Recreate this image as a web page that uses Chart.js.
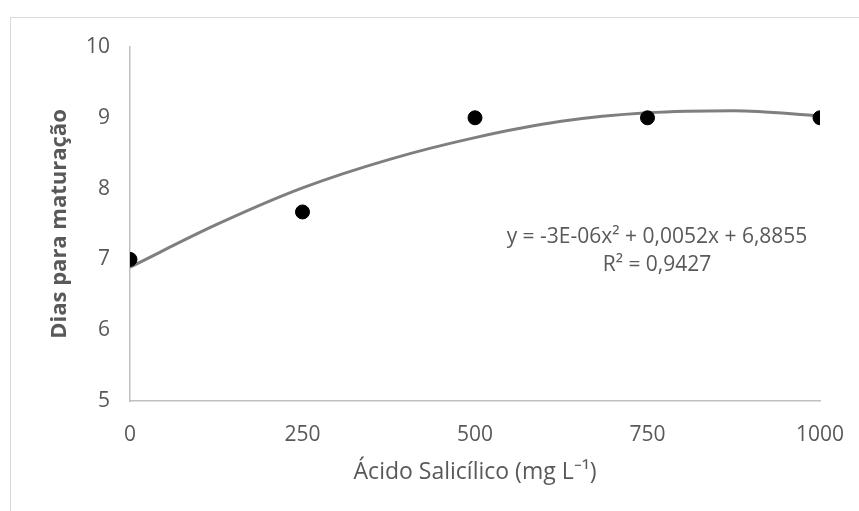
<!DOCTYPE html>
<html>
<head>
<meta charset="utf-8">
<script src="https://cdn.jsdelivr.net/npm/chart.js@4"></script>
<style>
  html, body { margin: 0; padding: 0; background: #fff; }
  #wrap { width: 859px; height: 511px; }
</style>
</head>
<body>
<div id="wrap"><canvas id="chart"></canvas></div>
<script>
// observed points
const doses = [0, 250, 500, 750, 1000];
const dias = [7, 7.67, 9, 9, 9];

// trend line
const trendX = [0, 125, 250, 375, 500, 625, 750, 875, 1000];
const trendY = [6.89, 7.49, 8.01, 8.41, 8.72, 8.95, 9.07, 9.1, 9.03];

const xTicks = [0, 250, 500, 750, 1000];
const yTicks = [5, 6, 7, 8, 9, 10];

const eqLines = ['y = -3E-06x² + 0,0052x + 6,8855', 'R² = 0,9427'];

const grey = '#595959';
const fontFam = '"Open Sans", sans-serif';

const frame = {
    id: 'frame',
    beforeDraw(chart) {
        const ctx = chart.ctx;
        ctx.save();
        ctx.fillStyle = '#fff';
        ctx.fillRect(0, 0, chart.width, chart.height);
        ctx.strokeStyle = '#d9d9d9';
        ctx.lineWidth = 1;
        ctx.strokeRect(10.5, 17.5, 1000, 1000);
        ctx.restore();
    },
    afterDraw(chart) {
        const ctx = chart.ctx;
        ctx.save();
        ctx.fillStyle = grey;
        ctx.font = '21px ' + fontFam;
        ctx.textAlign = 'center';
        ctx.textBaseline = 'middle';
        ctx.fillText(eqLines[0], 657, 237);
        ctx.fillText(eqLines[1], 657, 265);
        ctx.restore();
    }
};

new Chart(document.getElementById('chart'), {
    type: 'scatter',
    data: {
        datasets: [
            {
                label: 'trend',
                data: trendX.map((x, i) => ({ x: x, y: trendY[i] })),
                showLine: true,
                borderColor: '#7f7f7f',
                borderWidth: 3,
                pointRadius: 0,
                cubicInterpolationMode: 'monotone',
                order: 2
            },
            {
                label: 'dias',
                data: doses.map((x, i) => ({ x: x, y: dias[i] })),
                backgroundColor: '#000',
                borderColor: '#000',
                pointRadius: 7,
                order: 1
            }
        ]
    },
    options: {
        responsive: true,
        maintainAspectRatio: false,
        animation: false,
        layout: { padding: { left: 10, right: 39, top: 47, bottom: 0 } },
        plugins: { legend: { display: false }, tooltip: { enabled: false } },
        scales: {
            x: {
                type: 'linear',
                min: 0, max: 1000,
                afterBuildTicks: (s) => { s.ticks = xTicks.map(v => ({ value: v })); },
                afterFit: (s) => { s.height = 110; s.paddingLeft = 0; s.paddingRight = 0; },
                grid: { display: false, drawTicks: false },
                border: { display: true, color: '#bfbfbf', width: 1.5 },
                ticks: { color: grey, font: { family: fontFam, size: 21 }, padding: 21, maxRotation: 0,
                         callback: (v) => String(v) },
                title: {
                    display: true,
                    text: 'Ácido Salicílico (mg L⁻¹)',
                    color: grey,
                    font: { family: fontFam, size: 23 },
                    padding: { top: 0, bottom: 25 }
                }
            },
            y: {
                type: 'linear',
                min: 5, max: 10,
                afterBuildTicks: (s) => { s.ticks = yTicks.map(v => ({ value: v })); },
                afterFit: (s) => { s.width = 120; s.paddingTop = 0; s.paddingBottom = 0; },
                grid: { display: false, drawTicks: false },
                border: { display: true, color: '#bfbfbf', width: 1.5 },
                ticks: { color: grey, font: { family: fontFam, size: 21 }, padding: 20,
                         callback: (v) => String(v) },
                title: {
                    display: true,
                    text: 'Dias para maturação',
                    color: grey,
                    font: { family: fontFam, size: 22, weight: 'bold' },
                    padding: { top: 37, bottom: 0 }
                }
            }
        }
    },
    plugins: [frame]
});
</script>
</body>
</html>
